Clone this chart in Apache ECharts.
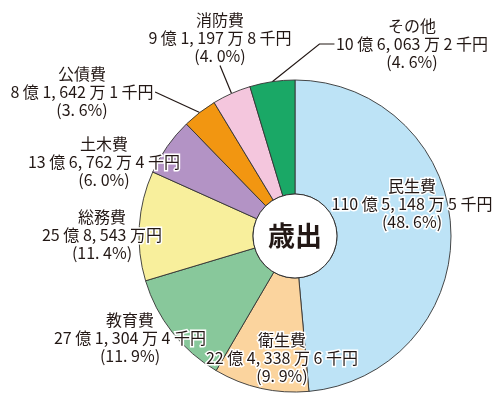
<!DOCTYPE html>
<html>
<head>
<meta charset="utf-8">
<script src="https://cdn.jsdelivr.net/npm/echarts@6/dist/echarts.min.js"></script>
<style>html,body{margin:0;padding:0;background:#fff}#c{width:500px;height:406px}</style>
</head>
<body>
<div id="c"></div>
<script>
// Data (amounts in 千円)
const categories = ['民生費','衛生費','教育費','総務費','土木費','公債費','消防費','その他'];
const values = [11051485, 2243386, 2713044, 2585430, 1367624, 816421, 911978, 1060632];
const amountLabels = ['110 億 5, 148 万 5 千円','22 億 4, 338 万 6 千円','27 億 1, 304 万 4 千円','25 億 8, 543 万円','13 億 6, 762 万 4 千円','8 億 1, 642 万 1 千円','9 億 1, 197 万 8 千円','10 億 6, 063 万 2 千円'];
const percentLabels = ['(48. 6%)','(9. 9%)','(11. 9%)','(11. 4%)','(6. 0%)','(3. 6%)','(4. 0%)','(4. 6%)'];
const centerLabel = '歳出';

// Styling / layout
const colors = ['#bde3f6','#fbd49e','#88c89b','#f8ef9c','#b393c5','#f29611','#f4c6dd','#1aa866'];
const withLine = [false,false,false,false,false,true,true,true];
const lineLen2 = [15,15,15,15,15,0,0,15];
const labelPos = [[412,204],[282,358],[130,338],[102,235],[104,162],[82,92],[220,38],[412,44]];

const chart = echarts.init(document.getElementById('c'), null, {renderer:'canvas'});
const font = "'Noto Sans CJK JP', 'Noto Sans CJK SC', sans-serif";

chart.setOption({
  animation: false,
  series: [{
    type: 'pie',
    center: [295, 236],
    radius: [42, 156],
    startAngle: 90,
    clockwise: true,
    avoidLabelOverlap: false,
    itemStyle: { borderColor: '#333', borderWidth: 0.9 },
    label: {
      show: true,
      position: 'outside',
      fontFamily: font,
      fontSize: 16,
      lineHeight: 18,
      color: '#231815',
      textBorderColor: '#fff',
      textBorderWidth: 3,
      align: 'center',
      formatter: p => p.name + '\n' + amountLabels[p.dataIndex] + '\n' + percentLabels[p.dataIndex]
    },
    labelLine: { show: true, length: 10, length2: 15, lineStyle: { color: '#231815', width: 1.2 } },
    labelLayout: p => ({ x: labelPos[p.dataIndex][0], y: labelPos[p.dataIndex][1], align: 'center', verticalAlign: 'middle' }),
    emphasis: { disabled: true },
    data: categories.map((n, i) => ({
      name: n, value: values[i],
      itemStyle: { color: colors[i] },
      labelLine: { show: withLine[i], length2: lineLen2[i] }
    }))
  }, {
    type: 'pie',
    center: [295, 236],
    radius: [0, 42],
    silent: true,
    itemStyle: { color: '#fff', borderColor: '#333', borderWidth: 1 },
    label: { show: true, position: 'center', formatter: centerLabel, fontFamily: font, fontSize: 27, fontWeight: 'bold', color: '#231815' },
    labelLine: { show: false },
    data: [{ name: centerLabel, value: 1 }]
  }]
});
</script>
</body>
</html>
